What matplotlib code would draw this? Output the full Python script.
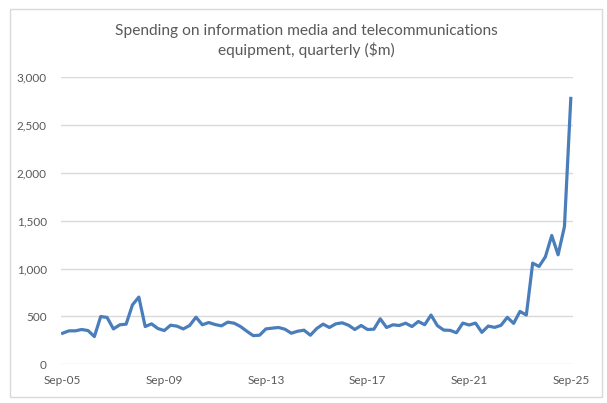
import numpy as np
import matplotlib.pyplot as plt
from matplotlib.patches import Rectangle

# quarterly spending, Sep-05 .. Sep-25 ($m)
spending = [325, 350, 350, 364, 353, 290, 500, 490, 370, 413,
            420, 622, 703, 395, 423, 374, 353, 409, 399, 370,
            406, 493, 413, 437, 416, 402, 441, 430, 395, 346,
            300, 304, 370, 378, 385, 367, 325, 346, 357, 304,
            374, 420, 385, 423, 434, 409, 364, 406, 364, 367,
            476, 385, 413, 406, 430, 395, 448, 414, 515, 404,
            358, 355, 330, 431, 411, 431, 334, 400, 386, 407,
            491, 428, 553, 515, 1058, 1023, 1124, 1347, 1145, 1440,
            2780]
tick_pos = [0, 16, 32, 48, 64, 80]
tick_labels = ['Sep-05', 'Sep-09', 'Sep-13', 'Sep-17', 'Sep-21', 'Sep-25']
title = 'Spending on information media and telecommunications\nequipment, quarterly ($m)'

plt.rcParams['font.family'] = ['Lato', 'DejaVu Sans']
grey = '#595959'

fig = plt.figure(figsize=(6.07, 4.03), dpi=100)
fig.patches.append(Rectangle((10/607, 1-397/403), 592/607, 388/403, transform=fig.transFigure,
                             fill=False, edgecolor='#d9d9d9', linewidth=1))
ax = fig.add_axes([0.1, 0.096, 0.8435, 0.712])

x = np.arange(len(spending))
ax.plot(x, spending, color='#4a7ebb', linewidth=2.3, solid_joinstyle='round')

ax.set_ylim(0, 3000)
ax.set_xlim(-0.3, 80.3)
ax.set_yticks(np.arange(0, 3001, 500))
ax.set_yticklabels(['{:,}'.format(v) for v in range(0, 3001, 500)])
ax.set_xticks(tick_pos)
ax.set_xticklabels(tick_labels)
ax.grid(axis='y', color='#d9d9d9', linewidth=1)
ax.set_axisbelow(True)
for s in ax.spines.values():
    s.set_visible(False)
ax.tick_params(length=0, colors=grey, labelsize=8.5)
ax.tick_params(axis='y', pad=10)
ax.tick_params(axis='x', pad=8)

fig.text(0.505, 1-41/403, title, ha='center', va='center', fontsize=11.2,
         color=grey, linespacing=1.3)

fig.savefig('out.png', dpi=100)
